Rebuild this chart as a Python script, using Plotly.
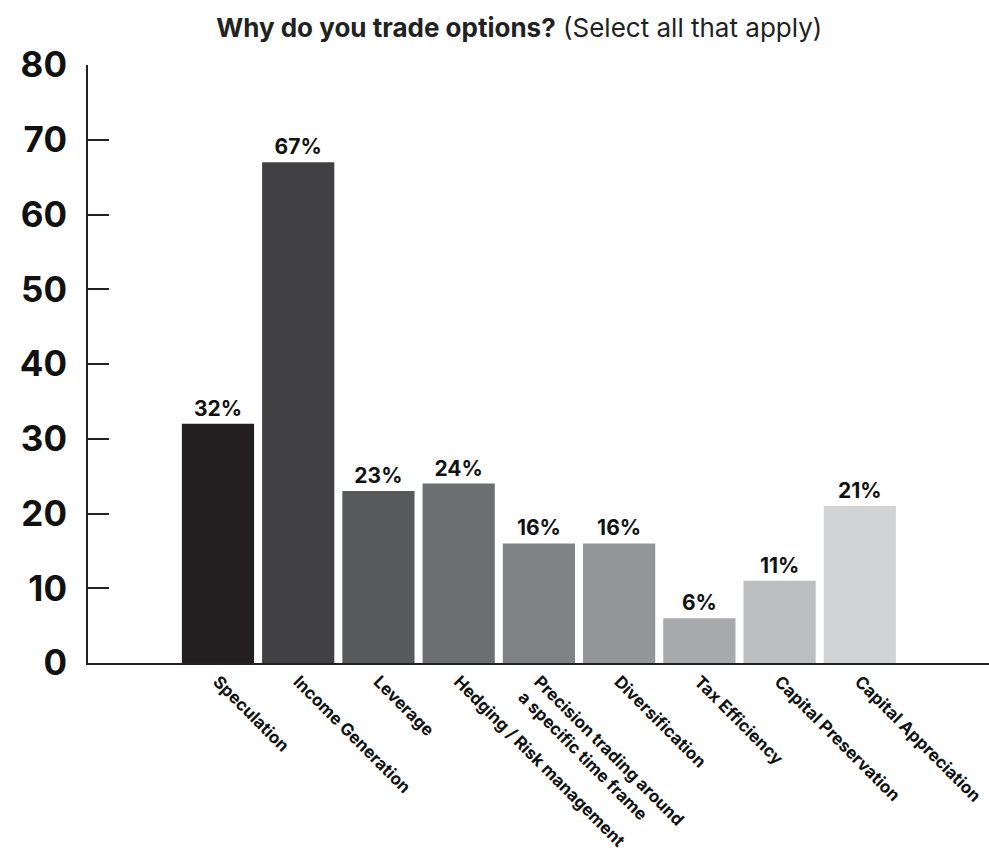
import plotly.graph_objects as go

categories = [
    "Speculation",
    "Income Generation",
    "Leverage",
    "Hedging / Risk management",
    "Precision trading around<br>a specific time frame",
    "Diversification",
    "Tax Efficiency",
    "Capital Preservation",
    "Capital Appreciation",
]
values = [32, 67, 23, 24, 16, 16, 6, 11, 21]
bar_colors = ["#231f20", "#414042", "#58595b", "#6d6e71", "#808285",
              "#939598", "#a7a9ac", "#bcbec0", "#d1d3d4"]
y_ticks = [0, 10, 20, 30, 40, 50, 60, 70, 80]

FONT = "Inter"

fig = go.Figure(
    go.Bar(
        x=list(range(len(categories))),
        y=values,
        marker=dict(color=bar_colors, line=dict(width=0)),
        text=[f"{v}%" for v in values],
        textposition="outside",
        cliponaxis=False,
        textfont=dict(family=FONT, size=21, color="#111111", weight=700),
        hoverinfo="skip",
    )
)

fig.update_layout(
    width=989,
    height=853,
    margin=dict(l=88, r=0, t=65, b=190),
    paper_bgcolor="white",
    plot_bgcolor="white",
    showlegend=False,
    bargap=0.1,
    title=dict(
        text="<b>Why do you trade options?</b> (Select all that apply)",
        x=0.525,
        xanchor="center",
        y=0.967,
        yanchor="middle",
        font=dict(family=FONT, size=26, color="#222222"),
    ),
    xaxis=dict(
        range=[-1.62, 9.61],
        tickmode="array",
        tickvals=list(range(len(categories))),
        ticktext=[f"<b>{c}</b>" for c in categories],
        tickangle=45,
        tickfont=dict(family=FONT, size=17, color="#111111"),
        showline=True,
        linecolor="#222222",
        linewidth=2,
        ticks="",
        showgrid=False,
        zeroline=False,
        fixedrange=True,
    ),
    yaxis=dict(
        range=[0, 80],
        tickmode="array",
        tickvals=y_ticks,
        ticktext=[f"<b>{t}</b>" for t in y_ticks],
        tickfont=dict(family=FONT, size=35, color="#111111"),
        ticks="inside",
        ticklen=21,
        tickwidth=2,
        tickcolor="#222222",
        ticklabelstandoff=12,
        showline=True,
        linecolor="#222222",
        linewidth=2,
        showgrid=False,
        zeroline=False,
        fixedrange=True,
    ),
)

fig.write_html("out.html")
